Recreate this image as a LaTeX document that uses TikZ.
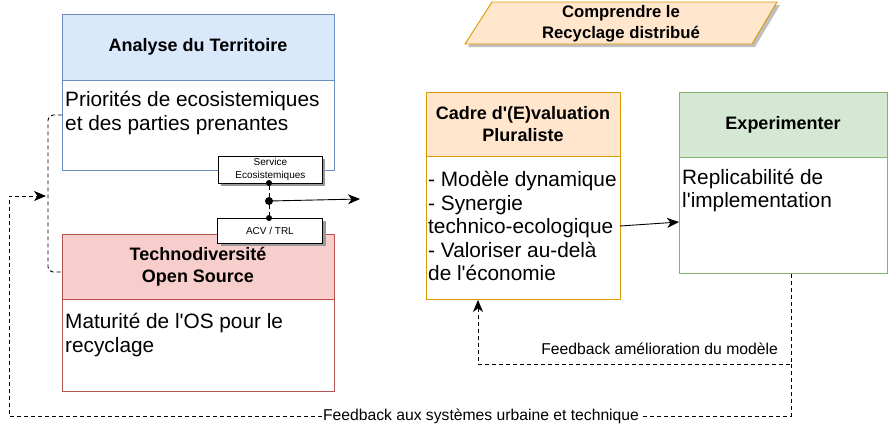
\documentclass[tikz,border=0pt]{standalone}
\usepackage{fontspec}
\setmainfont{Liberation Sans}
\usetikzlibrary{arrows.meta,positioning}
\definecolor{bluefill}{HTML}{DAE8FC}
\definecolor{bluedraw}{HTML}{6C8EBF}
\definecolor{redfill}{HTML}{F8CECC}
\definecolor{reddraw}{HTML}{B85450}
\definecolor{orfill}{HTML}{FFE6CC}
\definecolor{ordraw}{HTML}{D79B00}
\definecolor{grfill}{HTML}{D5E8D4}
\definecolor{grdraw}{HTML}{82B366}
\newcommand{\qq}{\textquotesingle}
\tikzset{
  boxpart/.style={draw, rectangle, anchor=north west, inner sep=0pt, line width=0.9pt},
  hdrtext/.style={font=\bfseries\fontsize{18}{22.5}\selectfont, align=center, inner sep=0pt},
  bodytext/.style={font=\fontsize{20.8}{24}\selectfont, align=left, anchor=north west, inner sep=0pt},
  smallbox/.style={draw, fill=white, line width=0.8pt, rectangle, anchor=north west, inner sep=0pt, align=center, font=\fontsize{10}{13}\selectfont},
  shadowbox/.style={fill=black!40, rectangle, anchor=north west, inner sep=0pt},
  fblabel/.style={font=\fontsize{15.7}{18}\selectfont, inner sep=1pt},
  dashline/.style={dash pattern=on 4pt off 3pt, line width=0.9pt},
  arr/.style={-{Stealth[length=12pt,width=10pt,inset=3.5pt]}, line width=0.9pt},
  dotc/.style={circle, fill=black, inner sep=0pt, minimum size=8pt},
}
\begin{document}
\begin{tikzpicture}[x=1pt,y=-1pt]
\useasboundingbox (0,0) rectangle (888,429);

% Blue box
\node[boxpart, fill=bluefill, draw=bluedraw, minimum width=272pt, minimum height=66pt] (bh) at (62,14) {};
\node[boxpart, fill=white, draw=bluedraw, minimum width=272pt, minimum height=90pt] (bb) at (62,80) {};
\node[hdrtext] (bht) at (198,47) {Analyse du Territoire};
\node[bodytext] (bbt) at (65,91) {Priorités de ecosistemiques\\et des parties prenantes};

% Red box
\node[boxpart, fill=redfill, draw=reddraw, minimum width=272pt, minimum height=65pt] (rh) at (62,234) {};
\node[boxpart, fill=white, draw=reddraw, minimum width=272pt, minimum height=92pt] (rb) at (62,299) {};
\node[hdrtext] (rht) at (198,267) {Technodiversité\\Open Source};
\node[bodytext] (rbt) at (65,313) {Maturité de l\qq OS pour le\\recyclage};

% Small boxes with shadows
\node[shadowbox, minimum width=104pt, minimum height=27pt] at (221,159) {};
\node[smallbox, minimum width=104pt, minimum height=27pt] (svc) at (218,156) {Service\\Ecosistemiques};
\node[shadowbox, minimum width=105pt, minimum height=25pt] at (221,221) {};
\node[smallbox, minimum width=105pt, minimum height=25pt] (acv) at (217,218) {ACV / TRL};

\node[dotc, minimum size=6pt] (d1) at (269,183) {};
\node[dotc, minimum size=6pt] (d3) at (269,218) {};
\node[dotc] (d2) at (269,201) {};
\coordinate (aend) at (360,199);
\draw[dashline] (d1) -- (d2);
\draw[dashline] (d2) -- (d3);
\draw[arr] (d2.center) -- (aend);

% Parallelogram
\fill[black!25] (495,5) -- (780,5) -- (755,47) -- (468,47) -- cycle;
\draw[fill=orfill, draw=ordraw, line width=0.9pt] (492,2) -- (777,2) -- (752,44) -- (465,44) -- cycle;
\node[hdrtext, font=\bfseries\fontsize{16.7}{21}\selectfont] (para) at (621,24) {Comprendre le\\Recyclage distribué};

% Orange box
\node[boxpart, fill=orfill, draw=ordraw, minimum width=194pt, minimum height=64pt] (oh) at (426,92) {};
\node[boxpart, fill=white, draw=ordraw, minimum width=194pt, minimum height=143pt] (ob) at (426,156) {};
\node[hdrtext] (oht) at (523,124) {Cadre d\qq(E)valuation\\Pluraliste};
\node[bodytext, font=\fontsize{20.8}{23.5}\selectfont] (obt) at (428,171) {- Modèle dynamique\\- Synergie\\technico-ecologique\\- Valoriser au-delà\\de l\qq économie};

% Green box
\node[boxpart, fill=grfill, draw=grdraw, minimum width=208pt, minimum height=65pt] (gh) at (679,92) {};
\node[boxpart, fill=white, draw=grdraw, minimum width=208pt, minimum height=116pt] (gb) at (679,157) {};
\node[hdrtext] (ght) at (783,125) {Experimenter};
\node[bodytext, font=\fontsize{20.8}{23}\selectfont] (gbt) at (682,169) {Replicabilité de\\l\qq implementation};

% Arrow orange -> green
\draw[arr] (620,226) -- (gb.west |- 0,222);

% Feedback modele
\coordinate (fm1) at (791,364);
\coordinate (fm2) at (478,364);
\draw[dashline, arr] (gb.south -| fm1) -- (fm1) -- (fm2) -- (ob.south -| fm2);
\node[fblabel, anchor=east] (fml) at (779,349) {Feedback amélioration du modèle};

% Feedback urbain
\coordinate (fu1) at (791,416);
\coordinate (fu2) at (9,416);
\coordinate (fu3) at (9,196);
\coordinate (fu4) at (46,196);
\node[fblabel, fill=white] (ful) at (481,416) {Feedback aux systèmes urbaine et technique};
\draw[dashline] (fm1) -- (fu1) -- (ful.east);
\draw[dashline, arr] (ful.west) -- (fu2) -- (fu3) -- (fu4);

% Bracket
\coordinate (br1) at (48,115);
\coordinate (br2) at (48,272);
\draw[dashline, rounded corners=5pt] (bb.west |- br1) -- (br1) -- (br2) -- (rh.west |- br2);
\end{tikzpicture}
\end{document}
